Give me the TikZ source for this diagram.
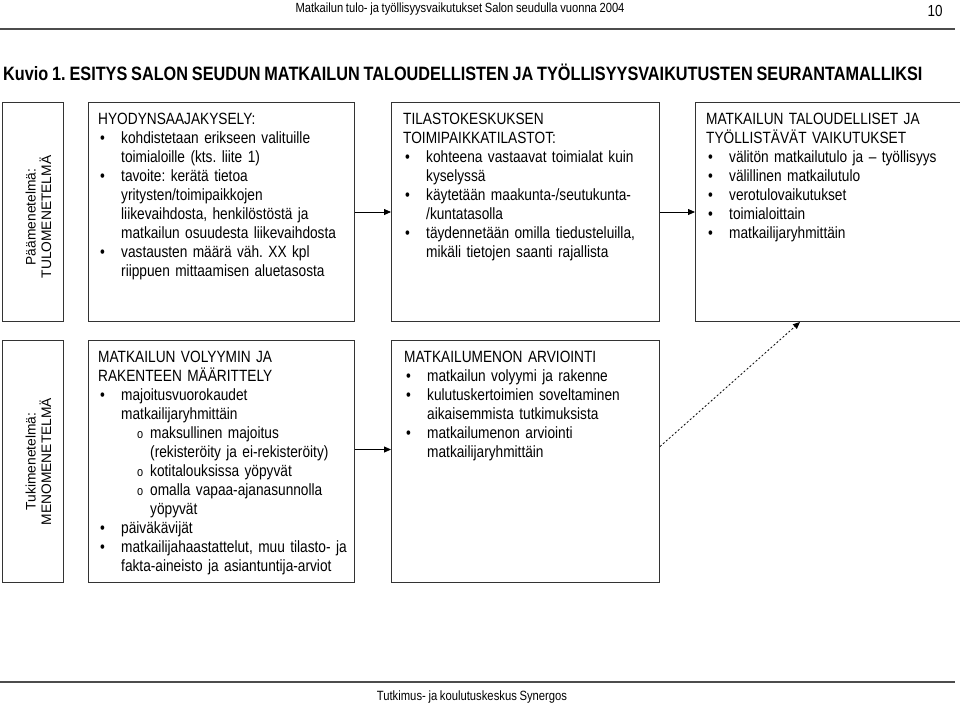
\documentclass[tikz,border=0pt]{standalone}
\usepackage{fontspec}
\setmainfont{Liberation Sans}[FakeStretch=0.84, WordSpace=0.85]
\newfontfamily\sidefont{Liberation Sans}
\usepackage{enumitem}
\usetikzlibrary{positioning,arrows.meta}

\newcommand\boxfont{\fontsize{16.3}{19}\selectfont}
\newcommand\boxsetup{\raggedright\frenchspacing\lineskiplimit=-20pt\relax}
\setlist[itemize,1]{label=\textbullet, leftmargin=23pt, labelwidth=21pt, labelsep=0pt, align=left,
  topsep=0pt, itemsep=0pt, parsep=0pt, partopsep=0pt}
\setlist[itemize,2]{label={\fontsize{13}{13}\selectfont o}, leftmargin=29pt, labelwidth=13pt, labelsep=0pt, align=left,
  topsep=0pt, itemsep=0pt, parsep=0pt, partopsep=0pt}
\frenchspacing

\begin{document}
\begin{tikzpicture}[x=1pt, y=-1pt,
  frame/.style={draw=black!80, line width=1pt, inner sep=0pt, minimum width=#1},
  txt/.style={inner sep=0pt, anchor=north west, text width=250pt, font=\boxfont,
    execute at begin node=\boxsetup},
  sidetext/.style={rotate=90, align=center, inner sep=0pt, font=\sidefont\fontsize{13.8}{15.5}\selectfont},
  arr/.style={-{Triangle[length=7pt,width=6pt]}, line width=0.8pt},
  rule/.style={draw=black!70, line width=1.6pt}]

  \useasboundingbox (0,0) rectangle (960,705);

  \node (runhead) at (460,9) {\fontsize{13.3}{16}\selectfont Matkailun tulo- ja työllisyysvaikutukset Salon seudulla vuonna 2004};
  \node (pageno) at (935,11) {\fontsize{16}{18}\selectfont 10};
  \draw[rule] (0,29) -- (955,29);
  \node[anchor=west, inner sep=0pt] (title) at (3,72) {\fontsize{19.35}{22}\selectfont\bfseries Kuvio 1. ESITYS SALON SEUDUN MATKAILUN TALOUDELLISTEN JA TYÖLLISYYSVAIKUTUSTEN SEURANTAMALLIKSI};

  % frames
  \node[frame=61pt, minimum height=219pt, anchor=north west] (paa) at (2,102) {};
  \node[frame=266pt, minimum height=219pt, right=24pt of paa] (hyoty) {};
  \node[frame=268pt, minimum height=219pt, right=36pt of hyoty] (tila) {};
  \node[frame=265pt, minimum height=219pt, right=35pt of tila] (vaik) {};
  \node[frame=61pt, minimum height=242pt, below=18pt of paa] (tuki) {};
  \node[frame=266pt, minimum height=242pt, right=24pt of tuki] (volyymi) {};
  \node[frame=268pt, minimum height=242pt, right=36pt of volyymi] (meno) {};

  \node[sidetext] (paatxt) at ([shift={(5.5pt,-5pt)}]paa.center) {Päämenetelmä:\\TULOMENETELMÄ};
  \node[sidetext] (tukitxt) at ([xshift=5.5pt]tuki.center) {Tukimenetelmä:\\MENOMENETELMÄ};

  \node[txt] (hyotytxt) at ([shift={(10pt,-9pt)}]hyoty.north west) {\strut HYODYNSAAJAKYSELY:
    \begin{itemize}
      \item kohdistetaan erikseen valituille\\toimialoille (kts. liite 1)
      \item tavoite: kerätä tietoa\\yritysten/toimipaikkojen\\liikevaihdosta, henkilöstöstä ja\\matkailun osuudesta liikevaihdosta
      \item vastausten määrä väh. XX kpl\\riippuen mittaamisen aluetasosta
    \end{itemize}};

  \node[txt] (tilatxt) at ([shift={(12pt,-9pt)}]tila.north west) {\strut TILASTOKESKUKSEN\\TOIMIPAIKKATILASTOT:
    \begin{itemize}
      \item kohteena vastaavat toimialat kuin\\kyselyssä
      \item käytetään maakunta-/seutukunta-\\/kuntatasolla
      \item täydennetään omilla tiedusteluilla,\\mikäli tietojen saanti rajallista
    \end{itemize}};

  \node[txt] (vaiktxt) at ([shift={(11pt,-9pt)}]vaik.north west) {\strut MATKAILUN TALOUDELLISET JA\\TYÖLLISTÄVÄT VAIKUTUKSET
    \begin{itemize}
      \item välitön matkailutulo ja – työllisyys
      \item välillinen matkailutulo
      \item verotulovaikutukset
      \item toimialoittain
      \item matkailijaryhmittäin
    \end{itemize}};

  \node[txt] (volyymitxt) at ([shift={(10pt,-9pt)}]volyymi.north west) {\strut MATKAILUN VOLYYMIN JA\\RAKENTEEN MÄÄRITTELY
    \begin{itemize}
      \item majoitusvuorokaudet\\matkailijaryhmittäin
      \begin{itemize}
        \item maksullinen majoitus\\(rekisteröity ja ei-rekisteröity)
        \item kotitalouksissa yöpyvät
        \item omalla vapaa-ajanasunnolla\\yöpyvät
      \end{itemize}
      \item päiväkävijät
      \item matkailijahaastattelut, muu tilasto- ja\\fakta-aineisto ja asiantuntija-arviot
    \end{itemize}};

  \node[txt] (menotxt) at ([shift={(13pt,-9pt)}]meno.north west) {\strut MATKAILUMENON ARVIOINTI
    \begin{itemize}
      \item matkailun volyymi ja rakenne
      \item kulutuskertoimien soveltaminen\\aikaisemmista tutkimuksista
      \item matkailumenon arviointi\\matkailijaryhmittäin
    \end{itemize}};

  \draw[arr] (hyoty) -- (tila);
  \draw[arr] (tila) -- (vaik);
  \draw[arr] ([yshift=12pt]volyymi.east) -- ([yshift=12pt]meno.west);
  \draw[arr, dash pattern=on 2pt off 2pt] ([yshift=15pt]meno.east) -- ([xshift=-28pt]vaik.south);

  \draw[rule] (0,682) -- (955,682);
  \node (foot) at (472,697) {\fontsize{13.4}{15}\selectfont Tutkimus- ja koulutuskeskus Synergos};
\end{tikzpicture}
\end{document}
